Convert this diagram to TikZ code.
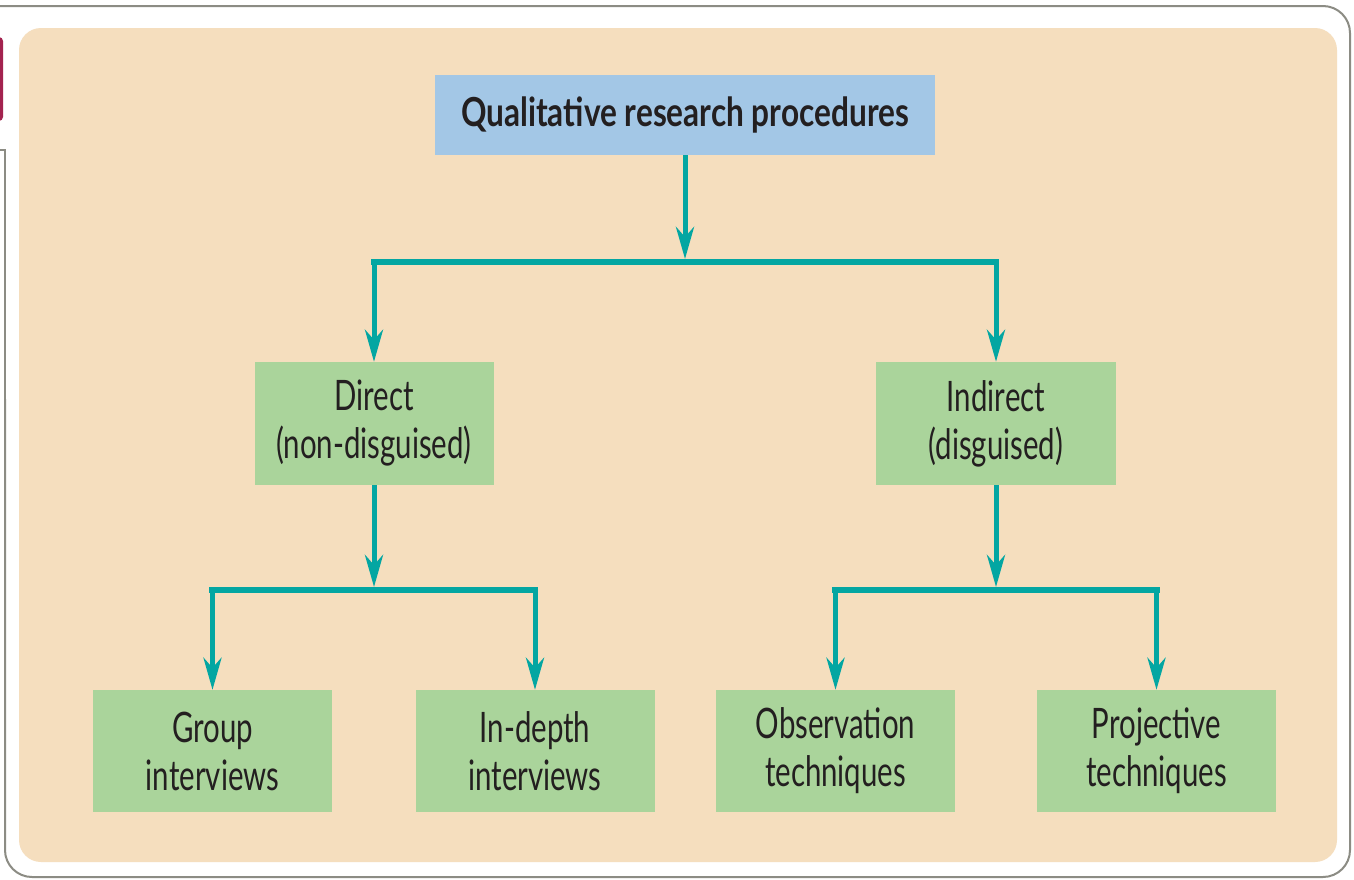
\documentclass[tikz,border=0pt]{standalone}
\usepackage{fontspec}
\usetikzlibrary{arrows.meta}
\newfontfamily\boxfont{Lato}[FakeStretch=0.70]
\newfontfamily\headfont{Lato}[FakeStretch=0.79]
\definecolor{peach}{HTML}{F5DEBE}
\definecolor{headblue}{HTML}{A3C7E6}
\definecolor{leafgreen}{HTML}{AAD49B}
\definecolor{teal}{HTML}{03A6A2}
\definecolor{inkdark}{HTML}{231F20}
\definecolor{framegray}{HTML}{8C8C84}
\definecolor{tabred}{HTML}{A3234F}
\tikzset{
  headbox/.style={fill=headblue, draw=none, minimum width=500pt, minimum height=80pt,
    inner sep=0pt, text=inkdark, font=\headfont\bfseries\fontsize{40}{44}\selectfont},
  leafbox/.style={fill=leafgreen, draw=none, minimum width=239pt, minimum height=123pt,
    inner sep=0pt, align=center, text=inkdark, font=\boxfont\fontsize{42}{48}\selectfont},
  link/.style={draw=teal, line width=5pt,
    -{Stealth[length=32pt,width=18pt,inset=10pt]}},
  bar/.style={draw=teal, line width=6.5pt, line cap=rect},
}
\begin{document}
\begin{tikzpicture}[x=1pt,y=-1pt]
\useasboundingbox (0,0) rectangle (1354,879);
% page frame and side tab
\fill[white] (0,0) rectangle (1354,879);
\fill[tabred, rounded corners=4pt] (-12,37) rectangle (3,121);
\draw[framegray, line width=2pt] (0,150) -- (5,150) -- (5,400);
\draw[framegray, line width=2pt, rounded corners=27pt]
  (5,399) -- (5,877) -- (1350,877) -- (1350,6) -- (0,6);
% panel
\fill[peach, rounded corners=22pt] (19,28) rectangle (1337,862);
% boxes
\node[headbox] (top) at (685,115) {Qualitative research procedures};
\node[leafbox] (direct) at (374,423.5) {Direct\\(non-disguised)};
\node[leafbox, minimum width=240pt] (indirect) at (996,423.5) {Indirect\\(disguised)};
\node[leafbox, minimum height=122pt] (group) at (212.5,751) {Group\\interviews};
\node[leafbox, minimum height=122pt] (depth) at (535,751) {In-depth\\interviews};
\node[leafbox, minimum height=122pt] (obs) at (835.5,751) {Observation\\techniques};
\node[leafbox, minimum height=122pt] (proj) at (1156.5,751) {Projective\\techniques};
% junction points on the branching bars
\coordinate (m0) at (685,259);
\coordinate (b0l) at (374,262);
\coordinate (b0r) at (996,262);
\coordinate (m1) at (374,587);
\coordinate (b1l) at (212.5,590);
\coordinate (b1r) at (535,590);
\coordinate (m2) at (996,587);
\coordinate (b2l) at (835.5,590);
\coordinate (b2r) at (1156.5,590);
% connectors
\draw[link] (top.south) -- (m0);
\draw[bar] (b0l) -- (b0r);
\draw[link] (b0l) -- (direct.north);
\draw[link] (b0r) -- (indirect.north);
\draw[link] (direct.south) -- (m1);
\draw[bar] (b1l) -- (b1r);
\draw[link] (b1l) -- (group.north);
\draw[link] (b1r) -- (depth.north);
\draw[link] (indirect.south) -- (m2);
\draw[bar] (b2l) -- (b2r);
\draw[link] (b2l) -- (obs.north);
\draw[link] (b2r) -- (proj.north);
\end{tikzpicture}
\end{document}
